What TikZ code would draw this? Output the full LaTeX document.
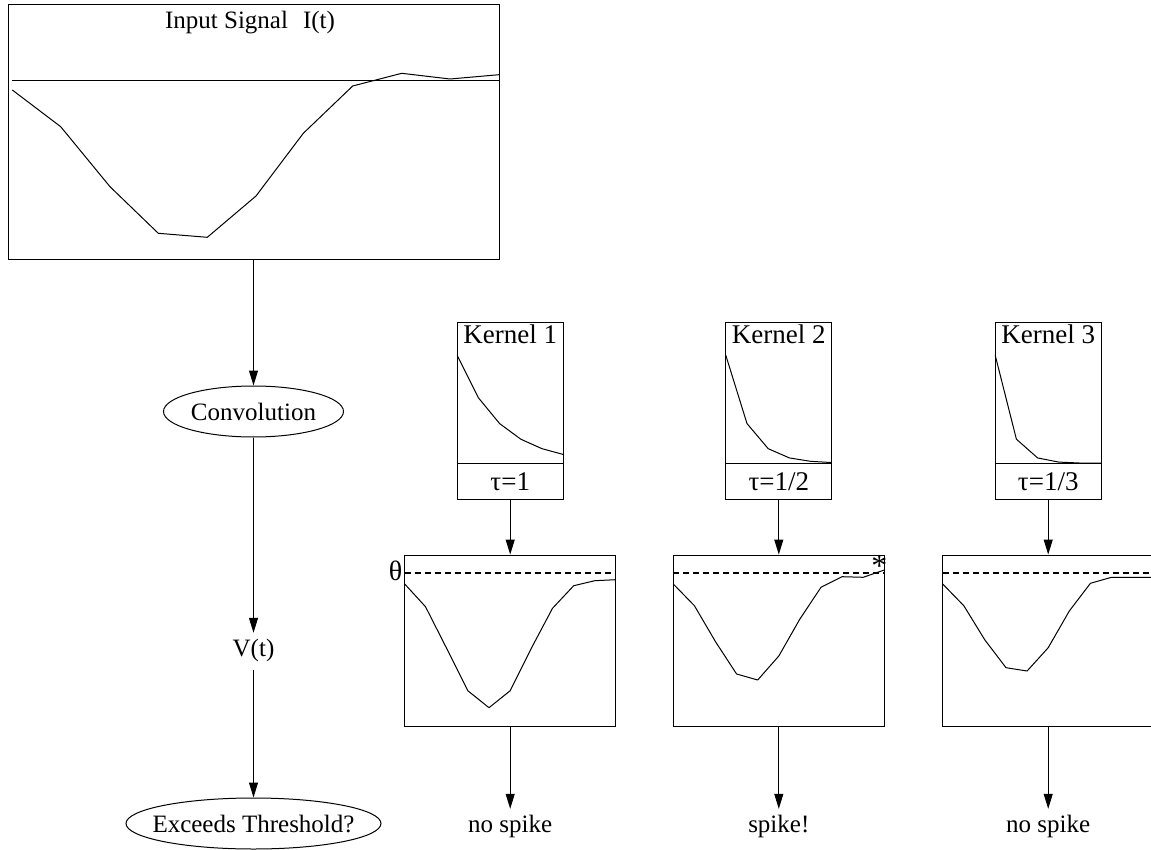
\documentclass[tikz,border=0pt]{standalone}
\usepackage{fontspec}
\setmainfont{Liberation Serif}
\usetikzlibrary{arrows.meta,shapes.geometric}
\begin{document}
\begin{tikzpicture}[x=1pt,y=-1pt,
  every node/.style={font=\fontsize{25}{30}\selectfont},
  box/.style={draw, line width=1pt, inner sep=0pt},
  sig/.style={line width=1pt, line join=round},
  thr/.style={line width=2.3pt, dash pattern=on 6pt off 4pt},
  arr/.style={line width=1pt, -{Triangle[length=15pt,width=9pt]}},
  lbl/.style={text height=17pt, text depth=8pt, inner xsep=0pt, inner ysep=6pt},
  oval/.style={draw, ellipse, line width=1pt, inner sep=0pt, text height=17pt, text depth=0pt},
  kfont/.style={font=\fontsize{27}{32}\selectfont}
]
\clip (0,0) rectangle (1151,850);

% ---------- input signal ----------
\node[box, minimum width=491pt, minimum height=255pt] (inbox) at (253.5,132.5) {};
\node[anchor=base, inner sep=0pt] (intitle) at (250,28.5) {Input Signal\hspace{15pt}I(t)};
\draw[sig] (12.3,80.7) -- (499,80.7);
\draw[sig] plot coordinates {(12.3,90) (60.7,126.7) (110,186.7) (158.3,233.3) (207.3,237.3) (256,196) (303.3,133.3) (352.7,86) (401.7,73.3) (450,79) (499,74.7)};

% ---------- left column ----------
\node[oval, minimum width=180pt, minimum height=51pt] (conv) at (253.5,411.5) {Convolution};
\node[lbl] (vt) at (253.5,651.5) {V(t)};
\node[oval, minimum width=255pt, minimum height=51pt] (exceed) at (253.5,823.5) {\makebox[150pt]{Exceeds Threshold?}};

\draw[arr] (inbox.south) -- (conv.north);
\draw[arr] (conv.south) -- (vt.north);
\draw[arr] (vt.south) -- (exceed.north);

% ---------- kernels ----------
\node[box, minimum width=106pt, minimum height=141.3pt] (k1) at (510.2,392.65) {};
\node[kfont, anchor=base, inner sep=0pt] (k1title) at (510.2,343.3) {Kernel 1};
\draw[sig] plot[domain=0:5, samples=6] ({457.2+21.2*\x},{463.3-108*exp(-0.5*\x)});
\node[box, kfont, minimum width=106pt, minimum height=35.7pt, text height=18pt, text depth=0pt] (t1) at (510.2,481.15) {τ=1};

\node[box, minimum width=106pt, minimum height=141.3pt] (k2) at (778.8,392.65) {};
\node[kfont, anchor=base, inner sep=0pt] (k2title) at (778.8,343.3) {Kernel 2};
\draw[sig] plot[domain=0:5, samples=6] ({725.8+21.2*\x},{463.3-108*exp(-1*\x)});
\node[box, kfont, minimum width=106pt, minimum height=35.7pt, text height=18pt, text depth=0pt] (t2) at (778.8,481.15) {τ=1/2};

\node[box, minimum width=106pt, minimum height=141.3pt] (k3) at (1048.2,392.65) {};
\node[kfont, anchor=base, inner sep=0pt] (k3title) at (1048.2,343.3) {Kernel 3};
\draw[sig] plot[domain=0:5, samples=6] ({995.2+21.2*\x},{463.3-108*exp(-1.5*\x)});
\node[box, kfont, minimum width=106pt, minimum height=35.7pt, text height=18pt, text depth=0pt] (t3) at (1048.2,481.15) {τ=1/3};

% ---------- membrane potentials ----------
\node[box, minimum width=211pt, minimum height=171.5pt] (v1) at (510.2,640.75) {};
\node[box, minimum width=211pt, minimum height=171.5pt] (v2) at (778.8,640.75) {};
\node[box, minimum width=211pt, minimum height=171.5pt] (v3) at (1048.2,640.75) {};

\draw[thr] (404.7,573.3) -- (615.7,573.3);
\draw[thr] (673.3,573.3) -- (884.3,573.3);
\draw[thr] (942.7,573.3) -- (1160,573.3);

\node[anchor=base, inner sep=0pt, font=\fontsize{28}{32}\selectfont] (theta) at (395.5,580) {θ};
\node[anchor=base, inner sep=0pt, font=\fontsize{32}{36}\selectfont] (star) at (879.3,576.5) {*};

\draw[sig] plot coordinates {(404.7,584) (425.5,606.7) (446.6,648.3) (467.8,690.7) (489.0,707.7) (510.2,690.7) (531.3,648.3) (552.5,608.3) (573.7,585.7) (594.8,580.7) (615.7,579.7)};
\draw[sig] plot coordinates {(673.3,584) (694.4,605.7) (715.5,641.7) (736.6,674) (757.7,680) (778.8,656) (799.9,619) (821.0,587.3) (842.1,576.7) (863.2,577.3) (884.3,570)};
\draw[sig] plot coordinates {(942.7,584) (963.8,605.7) (984.9,640) (1006.0,667.7) (1027.1,671) (1048.2,647.7) (1069.3,611) (1090.4,583.3) (1111.5,577.3) (1132.6,577.3) (1153.7,577.3)};

% ---------- outcomes ----------
\node[lbl] (o1) at (510.2,827.5) {no spike};
\node[lbl] (o2) at (778.8,827.5) {spike!};
\node[lbl] (o3) at (1048.2,827.5) {no spike};

\draw[arr] (t1.south) -- (v1.north);
\draw[arr] (t2.south) -- (v2.north);
\draw[arr] (t3.south) -- (v3.north);
\draw[arr] (v1.south) -- (o1.north);
\draw[arr] (v2.south) -- (o2.north);
\draw[arr] (v3.south) -- (o3.north);
\end{tikzpicture}
\end{document}
